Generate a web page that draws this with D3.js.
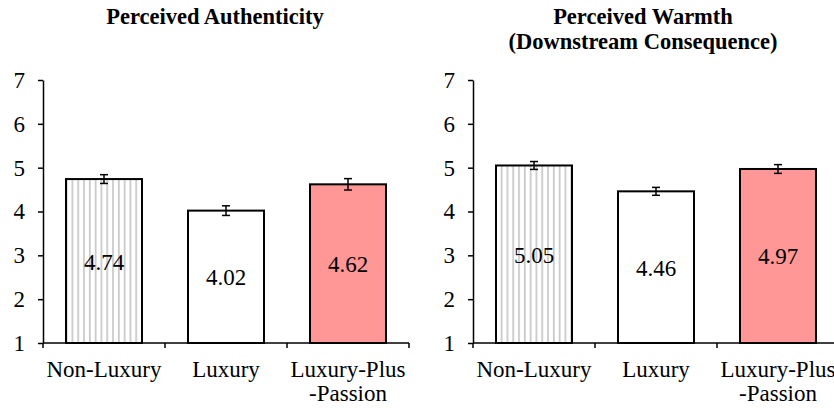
<!DOCTYPE html>
<html>
<head>
<meta charset="utf-8">
<script src="https://cdn.jsdelivr.net/npm/d3@7"></script>
<style>
  html, body { margin: 0; padding: 0; background: #fff; }
  svg { display: block; }
</style>
</head>
<body>
<svg id="chart" width="834" height="408"></svg>
<script>
// ---- data ----
const categories = ["Non-Luxury", "Luxury", "Luxury-Plus-Passion"];
const categoryLabels = [["Non-Luxury"], ["Luxury"], ["Luxury-Plus", "-Passion"]];
const authenticityValues = [4.74, 4.02, 4.62];
const authenticityErrors = [0.10, 0.11, 0.13];
const warmthValues = [5.05, 4.46, 4.97];
const warmthErrors = [0.09, 0.09, 0.10];
const yTicks = [1, 2, 3, 4, 5, 6, 7];
const panelTitles = [["Perceived Authenticity"], ["Perceived Warmth", "(Downstream Consequence)"]];

const FONT = "Liberation Serif";
const svg = d3.select("#chart");
const defs = svg.append("defs");
const pat = defs.append("pattern")
  .attr("id", "vstripes")
  .attr("patternUnits", "userSpaceOnUse")
  .attr("width", 5.8).attr("height", 10);
pat.append("rect").attr("width", 5.8).attr("height", 10).attr("fill", "#fff");
pat.append("rect").attr("x", 2).attr("width", 1.6).attr("height", 10).attr("fill", "#c4c4c4");

const fills = ["url(#vstripes)", "#ffffff", "#ff9797"];

const plotTop = 80, plotBottom = 343;

function panel(x0, x1, values, errors, titleLines, titleX) {
  const g = svg.append("g");
  const y = d3.scaleLinear().domain([1, 7]).range([plotBottom, plotTop]);
  const x = d3.scaleBand().domain(categories).range([x0, x1])
    .paddingInner(0.377).paddingOuter(0.1885);

  // title
  titleLines.forEach((t, i) => {
    g.append("text").attr("x", titleX).attr("y", 24 + i * 25)
      .attr("text-anchor", "middle").attr("font-family", FONT)
      .attr("font-size", 22.5).attr("font-weight", "bold")
      .text(t);
  });

  // bars
  g.selectAll("rect.bar").data(values).enter().append("rect")
    .attr("class", "bar")
    .attr("x", (d, i) => x(categories[i]))
    .attr("y", d => y(d))
    .attr("width", x.bandwidth())
    .attr("height", d => y(1) - y(d))
    .attr("fill", (d, i) => fills[i])
    .attr("stroke", "#000").attr("stroke-width", 2);

  // value labels
  g.selectAll("text.val").data(values).enter().append("text")
    .attr("class", "val")
    .attr("x", (d, i) => x(categories[i]) + x.bandwidth() / 2)
    .attr("y", d => (y(d) + y(1)) / 2 + 8.5)
    .attr("text-anchor", "middle").attr("font-family", FONT).attr("font-size", 23)
    .text(d => d.toFixed(2));

  // error bars
  const eb = g.selectAll("g.err").data(values).enter().append("g").attr("class", "err");
  eb.append("line")
    .attr("x1", (d, i) => x(categories[i]) + x.bandwidth() / 2)
    .attr("x2", (d, i) => x(categories[i]) + x.bandwidth() / 2)
    .attr("y1", (d, i) => y(d + errors[i]))
    .attr("y2", (d, i) => y(d - errors[i]))
    .attr("stroke", "#000").attr("stroke-width", 1.5);
  [1, -1].forEach(s => {
    eb.append("line")
      .attr("x1", (d, i) => x(categories[i]) + x.bandwidth() / 2 - 4)
      .attr("x2", (d, i) => x(categories[i]) + x.bandwidth() / 2 + 4)
      .attr("y1", (d, i) => y(d + s * errors[i]))
      .attr("y2", (d, i) => y(d + s * errors[i]))
      .attr("stroke", "#000").attr("stroke-width", 1.5);
  });

  // y axis
  const ya = g.append("g").attr("transform", `translate(${x0},0)`)
    .call(d3.axisLeft(y).tickValues(yTicks).tickSize(5).tickSizeOuter(0).tickPadding(13).tickFormat(d3.format("d")));
  ya.attr("font-family", FONT).attr("font-size", 23);
  ya.select(".domain").attr("stroke", "#000").attr("stroke-width", 1.5);
  ya.selectAll(".tick line").attr("stroke", "#000").attr("stroke-width", 1.5);
  ya.selectAll(".tick text").attr("fill", "#000");

  // x axis
  g.append("line").attr("x1", x0).attr("x2", x1).attr("y1", y(1)).attr("y2", y(1))
    .attr("stroke", "#000").attr("stroke-width", 1.5);
  const step = x.step();
  const bounds = d3.range(categories.length + 1).map(i => x0 + i * step);
  g.selectAll("line.xt").data(bounds).enter().append("line").attr("class", "xt")
    .attr("x1", d => d).attr("x2", d => d)
    .attr("y1", y(1)).attr("y2", y(1) + 5)
    .attr("stroke", "#000").attr("stroke-width", 1.5);

  // category labels
  categoryLabels.forEach((lines, i) => {
    const cx = x(categories[i]) + x.bandwidth() / 2;
    lines.forEach((t, j) => {
      g.append("text").attr("x", cx).attr("y", 377 + j * 24)
        .attr("text-anchor", "middle").attr("font-family", FONT).attr("font-size", 23).text(t);
    });
  });
}

panel(43, 409, authenticityValues, authenticityErrors, panelTitles[0], 215);
panel(473, 839, warmthValues, warmthErrors, panelTitles[1], 643);
</script>
</body>
</html>
